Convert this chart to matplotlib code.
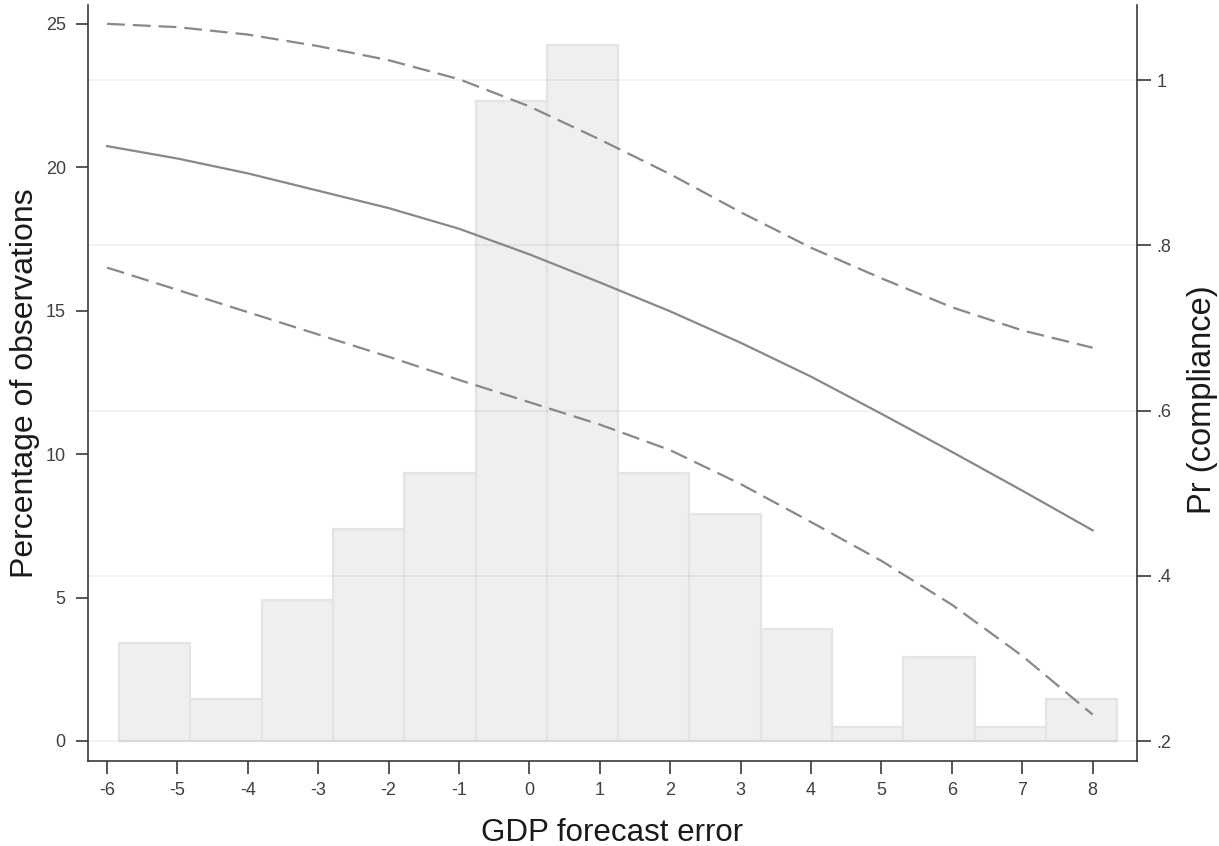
import matplotlib
matplotlib.use("Agg")
import matplotlib.pyplot as plt

plt.rcParams['font.family'] = ['Liberation Sans', 'DejaVu Sans']

# ---- data ----
bin_edges = [-5.83, -4.817, -3.804, -2.791, -1.778, -0.766, 0.247, 1.260,
             2.273, 3.286, 4.299, 5.312, 6.325, 7.338, 8.351]
pct_obs = [3.40, 1.45, 4.90, 7.40, 9.35, 22.30, 24.25, 9.35, 7.90, 3.90,
           0.47, 2.93, 0.47, 1.46]

x_pred = [-6, -5, -4, -3, -2, -1, 0, 1, 2, 3, 4, 5, 6, 7, 8]
pr_fit = [0.920, 0.905, 0.887, 0.866, 0.845, 0.820, 0.789, 0.755, 0.720,
          0.682, 0.641, 0.596, 0.550, 0.503, 0.455]
pr_upper = [1.068, 1.064, 1.055, 1.041, 1.024, 1.001, 0.968, 0.928, 0.886,
            0.840, 0.797, 0.760, 0.725, 0.697, 0.676]
pr_lower = [0.773, 0.746, 0.719, 0.692, 0.665, 0.637, 0.610, 0.583, 0.552,
            0.511, 0.465, 0.418, 0.365, 0.303, 0.232]

x_ticks = [-6, -5, -4, -3, -2, -1, 0, 1, 2, 3, 4, 5, 6, 7, 8]
left_ticks = [0, 5, 10, 15, 20, 25]
right_ticks = [0.2, 0.4, 0.6, 0.8, 1.0]
right_tick_labels = ['.2', '.4', '.6', '.8', '1']

W, H = 1219, 846
fig = plt.figure(figsize=(W / 100, H / 100), dpi=100)
ax = fig.add_axes([88 / W, 85 / H, 1049 / W, 756 / H])

lefts = bin_edges[:-1]
widths = [b - a for a, b in zip(bin_edges[:-1], bin_edges[1:])]
ax.bar(lefts, pct_obs, width=widths, align='edge', color='#EFEFEF',
       edgecolor='#E4E4E4', linewidth=1.6, zorder=2)

ax.set_xlim(-6.271, 8.63)
ax.set_ylim(-0.70, 25.66)

ax2 = ax.twinx()
ax2.set_ylim(0.1758, 1.0908)
ax2.set_axisbelow(True)
ax2.yaxis.grid(True, color='#000000', alpha=0.055, linewidth=1.3)

line_col = '#888888'
ax2.plot(x_pred, pr_fit, color=line_col, linewidth=1.6, zorder=3)
ax2.plot(x_pred, pr_upper, color=line_col, linewidth=1.6,
         dashes=(8.0, 3.6), zorder=3)
ax2.plot(x_pred, pr_lower, color=line_col, linewidth=1.6,
         dashes=(8.0, 3.6), zorder=3)

spine_col = '#3A3A3A'
for a in (ax, ax2):
    a.spines['top'].set_visible(False)
    for s in a.spines.values():
        s.set_color(spine_col)
        s.set_linewidth(1.2)
ax.spines['right'].set_visible(False)
ax2.spines['left'].set_visible(False)
ax2.spines['bottom'].set_visible(False)

tick_col = '#404040'
ax.set_xticks(x_ticks)
ax.set_xticklabels([str(v) for v in x_ticks])
ax.set_yticks(left_ticks)
ax.set_yticklabels([str(v) for v in left_ticks])
ax.tick_params(axis='x', length=9, width=1.2, color=spine_col, pad=6,
               labelsize=13, labelcolor=tick_col)
ax.tick_params(axis='y', length=9, width=1.2, color=spine_col, pad=7,
               labelsize=13, labelcolor=tick_col)
ax2.set_yticks(right_ticks)
ax2.set_yticklabels(right_tick_labels)
ax2.tick_params(axis='y', length=10, width=1.2, color=spine_col, pad=4,
                labelsize=13, labelcolor=tick_col)

lab_col = '#1A1A1A'
fig.text(612 / W, 5 / H, 'GDP forecast error', ha='center', va='baseline',
         fontsize=22.5, color=lab_col)
fig.text(33 / W, (H - 383) / H, 'Percentage of observations', rotation=90,
         rotation_mode='anchor', ha='center', va='baseline',
         fontsize=23, color=lab_col)
fig.text(1211 / W, (H - 400) / H, 'Pr (compliance)', rotation=90,
         rotation_mode='anchor', ha='center', va='baseline',
         fontsize=23.5, color=lab_col)

fig.savefig('out.png', dpi=100)
